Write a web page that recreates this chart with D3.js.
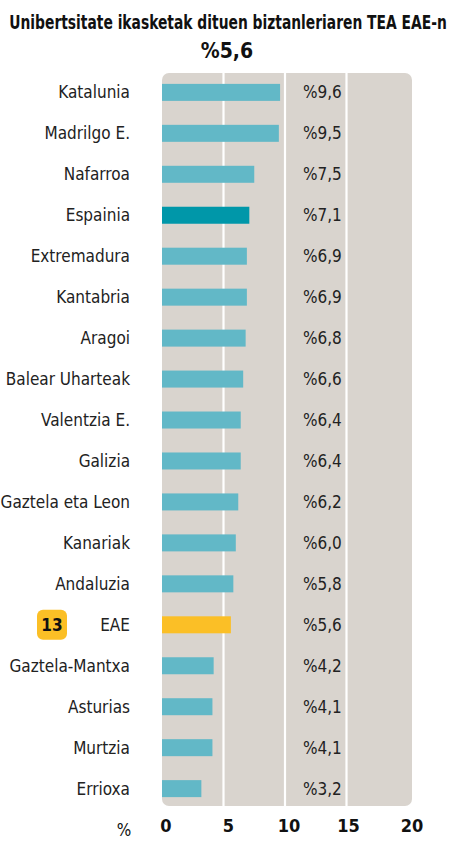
<!DOCTYPE html>
<html><head><meta charset="utf-8">
<script src="https://cdn.jsdelivr.net/npm/d3@7"></script>
<style>
body{margin:0;background:#fff;}
text{font-family:"DejaVu Sans Condensed","DejaVu Sans",sans-serif;font-stretch:condensed;}
</style></head>
<body><svg id="c" width="454" height="841"></svg>
<script>
const categories=["Katalunia","Madrilgo E.","Nafarroa","Espainia","Extremadura","Kantabria","Aragoi","Balear Uharteak","Valentzia E.","Galizia","Gaztela eta Leon","Kanariak","Andaluzia","EAE","Gaztela-Mantxa","Asturias","Murtzia","Errioxa"];
const values=[9.6,9.5,7.5,7.1,6.9,6.9,6.8,6.6,6.4,6.4,6.2,6.0,5.8,5.6,4.2,4.1,4.1,3.2];
const valueLabels=["%9,6","%9,5","%7,5","%7,1","%6,9","%6,9","%6,8","%6,6","%6,4","%6,4","%6,2","%6,0","%5,8","%5,6","%4,2","%4,1","%4,1","%3,2"];
const ticks=[0,5,10,15,20];
const title="Unibertsitate ikasketak dituen biztanleriaren TEA EAE-n";
const subtitle="%5,6";
const rankLabel="13";

const svg=d3.select("#c");
const x=d3.scaleLinear().domain([0,20]).range([162,408]);
const y=d3.scaleBand().domain(categories).range([72,809]).paddingInner(0.585).paddingOuter(0.29);

const t=svg.append("text").attr("text-anchor","middle")
  .attr("font-size",19).attr("font-weight","bold").attr("fill","#111").text(title);
const w=t.node().getComputedTextLength();
t.attr("transform",`translate(228,29) scale(${438/w},1)`);
svg.append("text").attr("x",227).attr("y",58).attr("text-anchor","middle")
  .attr("font-size",21).attr("font-weight","bold").attr("fill","#111").text(subtitle);

svg.append("rect").attr("x",162).attr("y",73).attr("width",250).attr("height",733)
  .attr("rx",7).attr("fill","#d9d4ce");
svg.selectAll(".grid").data(ticks.slice(1,4)).join("line")
  .attr("x1",d=>x(d)).attr("x2",d=>x(d)).attr("y1",73).attr("y2",806)
  .attr("stroke","#fff").attr("stroke-width",2.2);

svg.selectAll(".bar").data(categories).join("rect")
  .attr("x",x(0)).attr("y",d=>y(d)).attr("height",y.bandwidth())
  .attr("width",(d,i)=>x(values[i])-x(0))
  .attr("fill",d=>d==="EAE"?"#fbbf26":d==="Espainia"?"#0097a9":"#62b8c7");

svg.selectAll(".cat").data(categories).join("text")
  .attr("x",130).attr("y",d=>y(d)+y.bandwidth()/2).attr("dy","0.35em")
  .attr("text-anchor","end").attr("font-size",17).attr("fill","#222").text(d=>d);

svg.selectAll(".val").data(categories).join("text")
  .attr("x",303).attr("y",d=>y(d)+y.bandwidth()/2).attr("dy","0.35em")
  .attr("font-size",17).attr("fill","#222").text((d,i)=>valueLabels[i]);

const ey=y("EAE")+y.bandwidth()/2;
svg.append("rect").attr("x",37).attr("y",ey-15).attr("width",30).attr("height",30).attr("rx",6).attr("fill","#fbbf26");
svg.append("text").attr("x",52).attr("y",ey).attr("dy","0.35em").attr("text-anchor","middle")
  .attr("font-size",17).attr("font-weight","bold").attr("fill","#111").text(rankLabel);

svg.selectAll(".tick").data(ticks).join("text")
  .attr("x",(d,i)=>x(d)+[4,5,4,2,4][i]).attr("y",832).attr("text-anchor","middle")
  .attr("font-size",18).attr("font-weight","bold").attr("fill","#111").text(d=>d);
svg.append("text").attr("x",124).attr("y",836).attr("text-anchor","middle")
  .attr("font-size",17).attr("fill","#111").text("%");
</script></body></html>
